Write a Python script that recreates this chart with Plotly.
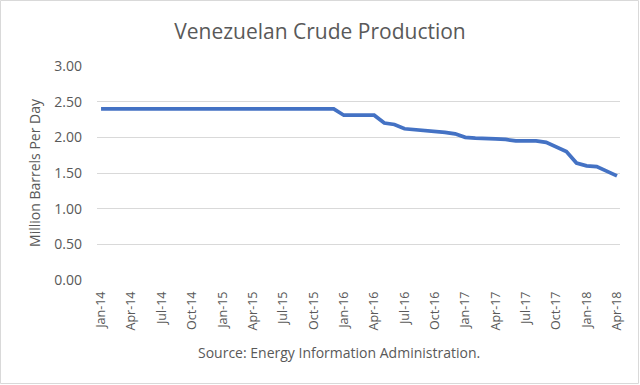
import plotly.graph_objects as go

months = ["Jan","Feb","Mar","Apr","May","Jun","Jul","Aug","Sep","Oct","Nov","Dec"]
categories = [f"{m}-{y}" for y in ["14","15","16","17","18"] for m in months][:52]

production = [2.40]*24 + [2.31, 2.31, 2.31, 2.31, 2.20, 2.18, 2.12, 2.11, 2.09, 2.08, 2.07, 2.05,
                          2.00, 1.99, 1.99, 1.98, 1.97, 1.95, 1.95, 1.95, 1.93, 1.87, 1.80, 1.64,
                          1.60, 1.59, 1.53, 1.46]

tick_labels = categories[::3]
y_ticks = [0, 0.5, 1.0, 1.5, 2.0, 2.5, 3.0]

W, H = 640, 385
L, R, T, B = 97, 20, 66, 105
pw, ph = W - L - R, H - T - B

fig = go.Figure()
fig.add_trace(go.Scatter(x=list(range(len(categories))), y=production, mode="lines",
                         line=dict(color="#4472C4", width=3.75), showlegend=False,
                         hoverinfo="y"))

font_family = "Open Sans, Liberation Sans, sans-serif"
gray = "#595959"

fig.update_layout(
    width=W, height=H,
    margin=dict(l=L, r=R, t=T, b=B, autoexpand=False),
    paper_bgcolor="white", plot_bgcolor="white",
    title=dict(text="Venezuelan Crude Production", x=0.5, xanchor="center",
               y=1 - 32/H, yanchor="middle",
               font=dict(family=font_family, size=21, color=gray)),
    xaxis=dict(range=[-0.4, 51.3], tickmode="array",
               tickvals=list(range(0, len(categories), 3)), ticktext=tick_labels,
               tickangle=-90, showgrid=False, zeroline=False, showline=False,
               ticks="", ticklabelstandoff=8,
               tickfont=dict(family=font_family, size=12.5, color=gray)),
    yaxis=dict(range=[0, 3.0], tickvals=y_ticks, tickformat=".2f",
               showgrid=True, gridcolor="#D9D9D9", gridwidth=1, zeroline=False,
               showline=False, ticks="", ticklabelstandoff=14,
               tickfont=dict(family=font_family, size=14, color=gray),
               title=dict(text="Million Barrels Per Day", standoff=10,
                          font=dict(family=font_family, size=14, color=gray))),
    annotations=[dict(text="Source: Energy Information Administration.",
                      xref="paper", yref="paper",
                      x=(339 - L)/pw, y=-(352 - T - ph)/ph,
                      xanchor="center", yanchor="middle", showarrow=False,
                      font=dict(family=font_family, size=14, color=gray))],
    shapes=[dict(type="rect", xref="paper", yref="paper",
                 x0=-(L - 0.5)/pw, x1=1 + (R - 1.5)/pw,
                 y0=-(B - 1.5)/ph, y1=1 + (T - 0.5)/ph,
                 line=dict(color="#D9D9D9", width=1))],
)

fig.write_html("out.html", config={"displayModeBar": False},
               post_script="document.body.style.margin='0';document.body.style.overflow='hidden';")
